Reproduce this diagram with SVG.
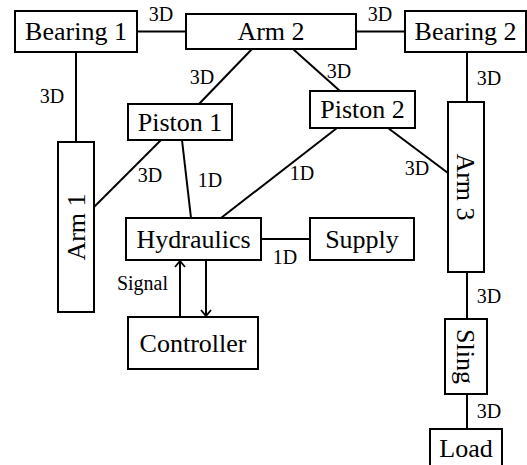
<svg xmlns="http://www.w3.org/2000/svg" width="527" height="465" viewBox="0 0 527 465">
<style>
.box{fill:#fff;stroke:#000;stroke-width:2}
.t{font-family:'Liberation Serif','Tinos','DejaVu Serif',serif;font-size:26px;text-anchor:middle;fill:#000}
.l{font-family:'Liberation Serif','Tinos','DejaVu Serif',serif;font-size:20px;text-anchor:middle;fill:#000}
.c{fill:none;stroke:#000;stroke-width:2}
</style>
<defs>
<marker id="arr" markerUnits="userSpaceOnUse" markerWidth="12" markerHeight="12" viewBox="0 0 12 12" refX="11" refY="6" orient="auto">
<path d="M5,1 L11,6 L5,11" fill="none" stroke="#000" stroke-width="1.8"/>
</marker>
</defs>
<rect width="527" height="465" fill="#fff"/>
<g id="connectors">
<path class="c" d="M137,31.5 H186"/>
<path class="c" d="M356,31.5 H405"/>
<path class="c" d="M76,52 V142"/>
<path class="c" d="M252,49 L199,104"/>
<path class="c" d="M293,49 L340,91"/>
<path class="c" d="M467,52 V102"/>
<path class="c" d="M161,140 L94,207"/>
<path class="c" d="M182,140 L191,218"/>
<path class="c" d="M337,128 L221,218"/>
<path class="c" d="M388,128 L448,173"/>
<path class="c" d="M261,239 H310"/>
<path class="c" d="M180,317 V261" marker-end="url(#arr)"/>
<path class="c" d="M206,260 V316" marker-end="url(#arr)"/>
<path class="c" d="M467,272 V319"/>
<path class="c" d="M467,394 V429"/>
<text class="l" x="161" y="21">3D</text>
<text class="l" x="380" y="21">3D</text>
<text class="l" x="52" y="103">3D</text>
<text class="l" x="202" y="84">3D</text>
<text class="l" x="339" y="78">3D</text>
<text class="l" x="489" y="85">3D</text>
<text class="l" x="150" y="182">3D</text>
<text class="l" x="210" y="187">1D</text>
<text class="l" x="302" y="180">1D</text>
<text class="l" x="417" y="175">3D</text>
<text class="l" x="285" y="264">1D</text>
<text class="l" x="142.5" y="290">Signal</text>
<text class="l" x="489" y="303">3D</text>
<text class="l" x="489" y="418">3D</text>
</g>
<g id="bearing1"><rect class="box" x="15" y="11" width="122" height="41"/><text class="t" x="76" y="40">Bearing 1</text></g>
<g id="arm2"><rect class="box" x="186" y="14" width="170" height="35"/><text class="t" x="271" y="40">Arm 2</text></g>
<g id="bearing2"><rect class="box" x="405" y="11" width="121" height="41"/><text class="t" x="465.5" y="40">Bearing 2</text></g>
<g id="piston1"><rect class="box" x="128" y="104" width="104" height="36"/><text class="t" x="180" y="131">Piston 1</text></g>
<g id="piston2"><rect class="box" x="310" y="91" width="105" height="37"/><text class="t" x="362.5" y="118">Piston 2</text></g>
<g id="arm1"><rect class="box" x="58" y="142" width="36" height="170"/><text class="t" transform="translate(76,227) rotate(-90)" x="0" y="9">Arm 1</text></g>
<g id="arm3"><rect class="box" x="448" y="102" width="36" height="170"/><text class="t" transform="translate(466,187) rotate(90)" x="0" y="9">Arm 3</text></g>
<g id="hydraulics"><rect class="box" x="126" y="218" width="135" height="42"/><text class="t" x="193.5" y="248">Hydraulics</text></g>
<g id="supply"><rect class="box" x="310" y="218" width="104" height="42"/><text class="t" x="362" y="248">Supply</text></g>
<g id="controller"><rect class="box" x="128" y="317" width="130" height="52"/><text class="t" x="193" y="352">Controller</text></g>
<g id="sling"><rect class="box" x="445" y="319" width="42" height="75"/><text class="t" transform="translate(466,356.5) rotate(90)" x="0" y="9">Sling</text></g>
<g id="load"><rect class="box" x="430" y="429" width="72" height="42"/><text class="t" x="466" y="457">Load</text></g>
</svg>
